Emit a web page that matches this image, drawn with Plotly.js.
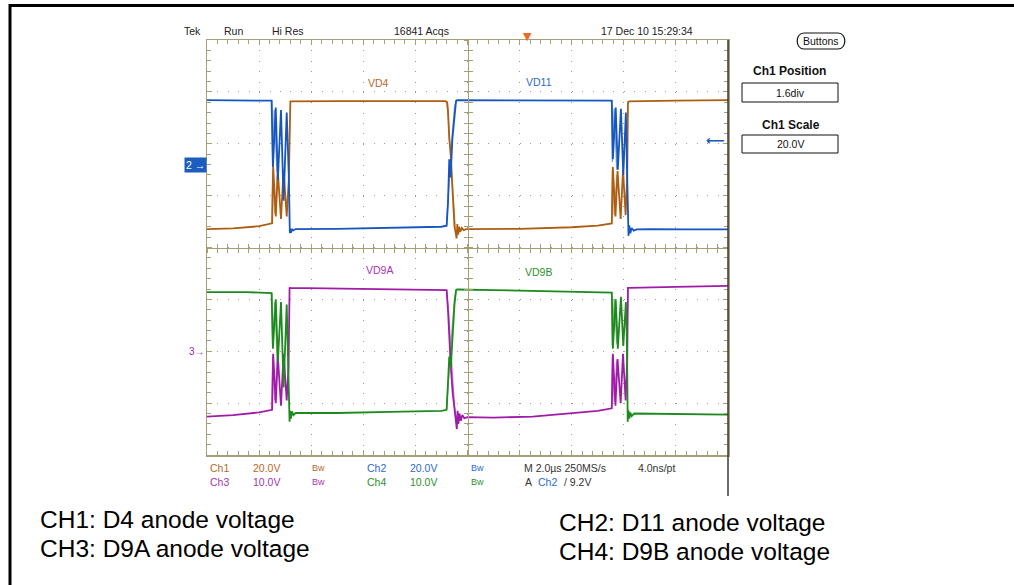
<!DOCTYPE html>
<html><head><meta charset="utf-8">
<script src="https://cdn.plot.ly/plotly-3.0.1.min.js"></script>
<style>html,body{margin:0;padding:0;background:#fff}#chart{width:1014px;height:585px}</style>
</head><body><div id="chart"></div>
<script>
// Time in µs from the left edge of the screen (M 2.0 µs/div), values in volts.
// CH1 / CH2: 20 V/div, CH3 / CH4: 10 V/div
const ch1Time = [0, 1.0, 2.0, 2.50, 2.54, 2.64, 2.72, 2.84, 2.94, 3.06, 3.14, 3.18, 3.20, 5.0, 7.0, 9.15, 9.22, 9.25, 9.30, 9.35, 9.40, 9.45, 9.50, 9.55, 9.58, 9.61, 9.64, 9.68, 9.72, 9.78, 9.85, 9.95, 10.5, 12.0, 14.0, 15.0, 15.54, 15.58, 15.68, 15.76, 15.88, 15.97, 16.07, 16.13, 16.16, 16.20, 18.0, 20.0];
const ch1Volt = [-24.9, -24.6, -23.8, -22.7, -1.0, -20.0, -3.0, -21.0, -2.0, -20.0, -6.0, 24.0, 24.3, 24.4, 24.5, 24.4, 24.0, 21.0, 10.0, 5.0, -5.0, -18.0, -24.0, -26.5, -28.5, -23.0, -27.0, -24.0, -26.0, -24.5, -25.3, -24.9, -24.9, -24.8, -24.2, -23.6, -22.7, -1.0, -20.0, -2.5, -21.0, -2.0, -19.5, -5.0, 24.0, 24.3, 24.6, 24.8];

const ch2Time = [0, 2.0, 2.48, 2.53, 2.64, 2.72, 2.84, 2.94, 3.06, 3.14, 3.18, 3.20, 3.22, 3.25, 3.30, 3.40, 5.0, 7.0, 9.0, 9.20, 9.25, 9.30, 9.35, 9.42, 9.50, 9.56, 9.60, 11.0, 13.0, 15.0, 15.54, 15.58, 15.69, 15.77, 15.89, 15.98, 16.08, 16.12, 16.15, 16.18, 16.21, 16.25, 16.30, 16.38, 16.50, 17.0, 18.5, 20.0];
const ch2Volt = [24.8, 24.6, 24.6, -1.0, 22.0, -6.0, 21.0, -14.0, 20.0, -4.0, -26.5, -25.0, -26.3, -24.8, -25.5, -24.9, -24.8, -24.5, -24.0, -23.6, -15.0, 2.0, -5.0, 10.0, 20.0, 24.5, 24.8, 24.8, 24.8, 24.7, 24.6, 2.0, 22.0, -2.0, 21.5, -4.0, 20.0, 0.0, -25.5, -27.5, -23.5, -26.5, -24.5, -25.5, -25.0, -24.9, -25.0, -25.0];

const ch3Time = [0, 1.0, 2.0, 2.50, 2.54, 2.64, 2.72, 2.84, 2.94, 3.06, 3.13, 3.17, 3.20, 5.0, 7.0, 9.0, 9.20, 9.25, 9.30, 9.36, 9.43, 9.50, 9.56, 9.59, 9.62, 9.65, 9.69, 9.74, 9.80, 9.88, 10.0, 11.0, 12.5, 14.0, 15.0, 15.54, 15.58, 15.68, 15.76, 15.88, 15.97, 16.07, 16.13, 16.16, 16.20, 18.0, 20.0];
const ch3Volt = [-12.6, -12.3, -11.8, -11.3, -0.5, -10.0, -1.0, -10.5, -0.5, -9.5, -3.0, 12.3, 12.2, 12.1, 12.0, 11.9, 11.8, 8.0, 2.0, -3.0, -8.0, -11.0, -13.5, -15.0, -11.5, -14.0, -12.0, -13.4, -12.3, -12.9, -12.7, -12.8, -12.6, -12.0, -11.5, -11.0, -0.5, -10.5, -1.5, -10.0, -0.5, -9.5, -2.0, 12.2, 12.2, 12.4, 12.6];

const ch4Time = [0, 1.5, 2.48, 2.53, 2.64, 2.72, 2.84, 2.94, 3.06, 3.13, 3.17, 3.19, 3.22, 3.26, 3.32, 3.40, 5.0, 7.0, 9.0, 9.20, 9.25, 9.30, 9.36, 9.43, 9.50, 9.56, 9.60, 11.0, 13.0, 15.0, 15.54, 15.58, 15.69, 15.77, 15.89, 15.98, 16.08, 16.12, 16.15, 16.18, 16.21, 16.25, 16.30, 16.40, 18.0, 20.0];
const ch4Volt = [11.4, 11.4, 11.2, 0.5, 10.0, -2.0, 9.5, -7.0, 9.0, -9.5, -13.6, -11.5, -13.0, -11.6, -12.3, -11.9, -11.9, -11.7, -11.5, -11.3, -6.0, -1.0, -3.0, 4.0, 9.0, 11.8, 11.9, 11.8, 11.6, 11.4, 11.3, 0.5, 10.0, 0.5, 10.5, 1.0, 9.5, 2.0, -13.6, -11.4, -13.0, -11.8, -12.5, -12.0, -12.1, -12.2];

// lighter persistence traces at the switching edges
const ch1GhostTime = [2.49, 2.52, 2.60, 2.70, null, 9.20, 9.26, 9.33, 9.40, 9.47, 9.53, null, 15.53, 15.56, 15.63, 15.73];
const ch1GhostVolt = [-22.8, -2.0, -19.0, -4.0, null, 24.2, 18.0, 6.0, -6.0, -18.0, -24.5, null, -22.7, -2.0, -19.5, -4.0];
const ch2GhostTime = [2.49, 2.52, 2.58, 2.69, null, 9.19, 9.27, 9.34, 9.42, 9.50, 9.57, null, 15.53, 15.56, 15.63, 15.73];
const ch2GhostVolt = [24.6, 2.0, 21.0, -3.0, null, -23.7, -10.0, 0.0, 12.0, 22.0, 24.6, null, 24.6, 1.0, 21.5, -2.0];
const ch3GhostTime = [2.49, 2.52, 2.60, 2.70, null, 9.19, 9.27, 9.34, 9.42, 9.50, 9.57, null, 15.53, 15.56, 15.63, 15.73];
const ch3GhostVolt = [-11.4, -1.0, -9.5, -1.5, null, 11.8, 8.0, 2.0, -5.0, -10.5, -12.8, null, -11.0, -1.0, -9.8, -1.8];
const ch4GhostTime = [2.49, 2.52, 2.60, 2.70, null, 9.19, 9.27, 9.34, 9.42, 9.50, 9.57, null, 15.53, 15.56, 15.63, 15.73];
const ch4GhostVolt = [11.2, 1.0, 9.5, -2.0, null, -11.3, -5.0, 0.0, 5.0, 10.0, 11.8, null, 11.3, 1.0, 10.0, 1.5];

// texts
const traceLabels = ['VD4', 'VD11', 'VD9A', 'VD9B'];
const headerTexts = ['Tek', 'Run', 'Hi Res', '16841 Acqs', '17 Dec 10 15:29:34'];
const readoutRow1 = ['Ch1', '20.0V', 'Bw', 'Ch2', '20.0V', 'Bw', 'M 2.0µs 250MS/s', '4.0ns/pt'];
const readoutRow2 = ['Ch3', '10.0V', 'Bw', 'Ch4', '10.0V', 'Bw', 'A', 'Ch2', '/ 9.2V'];
const captions = ['CH1: D4 anode voltage', 'CH3: D9A anode voltage', 'CH2: D11 anode voltage', 'CH4: D9B anode voltage'];
const triggerLevel = 9.2;      // V on Ch2
const triggerTime = 12.32;     // µs, marker at top of the screen

// ---------- styling ----------
const C1 = '#ad5e12', C2 = '#1656be', C3 = '#a01ca8', C4 = '#1c8a1c';
const G1 = '#d9a877', G2 = '#7ea6de', G3 = '#d47edb', G4 = '#7cc27c';
const T1 = '#b8682a', T2 = '#2c6ad0', T3 = '#a834b0', T4 = '#2a922a';
const gridCol = '#a69e76';
const dotCol = '#9d9a86';
const L = 207, R = 728, T = 40, B = 455;
const px = x => (x - L) / (R - L);
const py = y => (B - y) / (B - T);

const traces = [
  {x: ch1GhostTime, y: ch1GhostVolt, xaxis: 'x', yaxis: 'y', mode: 'lines', line: {color: G1, width: 1.3}, connectgaps: false, hoverinfo: 'skip'},
  {x: ch2GhostTime, y: ch2GhostVolt, xaxis: 'x', yaxis: 'y', mode: 'lines', line: {color: G2, width: 1.3}, connectgaps: false, hoverinfo: 'skip'},
  {x: ch3GhostTime, y: ch3GhostVolt, xaxis: 'x', yaxis: 'y2', mode: 'lines', line: {color: G3, width: 1.3}, connectgaps: false, hoverinfo: 'skip'},
  {x: ch4GhostTime, y: ch4GhostVolt, xaxis: 'x', yaxis: 'y2', mode: 'lines', line: {color: G4, width: 1.3}, connectgaps: false, hoverinfo: 'skip'},
  {x: ch1Time, y: ch1Volt, xaxis: 'x2', yaxis: 'y', mode: 'lines', line: {color: C1, width: 1.8}, name: 'Ch1'},
  {x: ch2Time, y: ch2Volt, xaxis: 'x3', yaxis: 'y', mode: 'lines', line: {color: C2, width: 1.8}, name: 'Ch2'},
  {x: ch3Time, y: ch3Volt, xaxis: 'x', yaxis: 'y3', mode: 'lines', line: {color: C3, width: 1.8}, name: 'Ch3'},
  {x: ch4Time, y: ch4Volt, xaxis: 'x', yaxis: 'y3', mode: 'lines', line: {color: C4, width: 1.8}, name: 'Ch4'}
];

const borderAxis = {
  showgrid: true, gridcolor: dotCol, gridwidth: 1,
  showline: true, linecolor: gridCol, linewidth: 1.5, mirror: 'ticks',
  ticks: 'inside', ticklen: 5, tickwidth: 1, tickcolor: gridCol,
  showticklabels: false, zeroline: false, fixedrange: true
};
const centerAxis = (ticks) => ({
  anchor: 'free', position: 0.5, showgrid: false, zeroline: false,
  showline: true, linecolor: gridCol, linewidth: 1.5,
  ticks: ticks, ticklen: 4, tickwidth: 1, tickcolor: gridCol,
  showticklabels: false, fixedrange: true
});

const ann = [];
const add = (o) => ann.push(Object.assign({showarrow: false, xref: 'paper', yref: 'paper'}, o));

// header
const headerX = [192, 233, 288, 421, 647];
headerTexts.forEach((t, i) => add({text: t, x: px(headerX[i]), y: py(31.5), xanchor: 'center', yanchor: 'middle', font: {size: 10.5, color: '#222'}}));

// trace labels
add({text: traceLabels[0], x: 6.60, xref: 'x', y: 31.4, yref: 'y', font: {size: 10.5, color: T1}});
add({text: traceLabels[1], x: 12.74, xref: 'x', y: 31.8, yref: 'y', font: {size: 10.5, color: T2}});
add({text: traceLabels[2], x: 6.62, xref: 'x', y: 15.66, yref: 'y2', font: {size: 10.5, color: T3}});
add({text: traceLabels[3], x: 12.74, xref: 'x', y: 15.28, yref: 'y2', font: {size: 10.5, color: T4}});

// channel markers
add({text: '2 →', x: 0, y: 0, yref: 'y', xanchor: 'right', yanchor: 'middle', bgcolor: '#1c5cbf', borderpad: 1, font: {size: 10.5, color: '#fff'}});
add({text: '3→', x: 0, y: 0, yref: 'y2', xanchor: 'right', yanchor: 'middle', font: {size: 10, color: C3}});
add({text: '⟵', x: 1, y: triggerLevel, yref: 'y', xanchor: 'right', yanchor: 'middle', xshift: -1, font: {family: 'DejaVu Sans', size: 13, color: C2, weight: 'bold'}});
add({text: '▼', x: triggerTime, xref: 'x', y: 1, yanchor: 'bottom', yshift: -5, font: {family: 'DejaVu Sans', size: 11, color: '#f06a1e'}});

// readouts
const row1X = [208, 251, 310, 365, 408, 469, 522, 636];
const row1C = [T1, T1, T1, T2, T2, T2, '#333', '#333'];
readoutRow1.forEach((t, i) => add({text: t, x: px(row1X[i]), y: py(468), xanchor: 'left', yanchor: 'middle', font: {size: i === 2 || i === 5 ? 9 : 10.5, color: row1C[i]}}));
const row2X = [208, 251, 310, 365, 408, 469, 523, 536, 562];
const row2C = [T3, T3, T3, T4, T4, T4, '#333', T2, '#333'];
readoutRow2.forEach((t, i) => add({text: t, x: px(row2X[i]), y: py(482), xanchor: 'left', yanchor: 'middle', font: {size: i === 2 || i === 5 ? 9 : 10.5, color: row2C[i]}}));

// side panel
add({text: 'Buttons', x: px(821), y: py(41), xanchor: 'center', yanchor: 'middle', font: {size: 10.5, color: '#111'}});
add({text: 'Ch1 Position', x: px(789), y: py(71), xanchor: 'center', yanchor: 'middle', font: {size: 12, color: '#111', weight: 'bold'}});
add({text: '1.6div', x: px(790), y: py(92.5), xanchor: 'center', yanchor: 'middle', font: {size: 10.5, color: '#111'}});
add({text: 'Ch1 Scale', x: px(791), y: py(125), xanchor: 'center', yanchor: 'middle', font: {size: 12, color: '#111', weight: 'bold'}});
add({text: '20.0V', x: px(790), y: py(144), xanchor: 'center', yanchor: 'middle', font: {size: 10.5, color: '#111'}});

// captions
const capX = [38, 38, 557, 557], capY = [519, 548, 522, 551];
captions.forEach((t, i) => add({text: t, x: px(capX[i]), y: py(capY[i]), xanchor: 'left', yanchor: 'middle', font: {size: 24.5, color: '#000'}}));

// shapes
const r = 7 / (R - L);
const bx0 = px(797), bx1 = px(845), by0 = py(49), by1 = py(33);
const shapes = [
  {type: 'line', xref: 'paper', yref: 'paper', x0: px(10), x1: px(1020), y0: py(5.5), y1: py(5.5), line: {color: '#000', width: 3}},
  {type: 'line', xref: 'paper', yref: 'paper', x0: px(10), x1: px(10), y0: py(4), y1: py(600), line: {color: '#000', width: 3}},
  {type: 'line', xref: 'paper', yref: 'paper', x0: 1, x1: 1, y0: py(40), y1: py(496), line: {color: '#3a3a3a', width: 1.5}},
  {type: 'rect', xref: 'paper', yref: 'paper', x0: px(742), x1: px(838), y0: py(102), y1: py(83), line: {color: '#111', width: 1}},
  {type: 'rect', xref: 'paper', yref: 'paper', x0: px(742), x1: px(838), y0: py(153), y1: py(135), line: {color: '#111', width: 1}},
  {type: 'path', xref: 'paper', yref: 'paper',
   path: `M${bx0 + r},${by1} L${bx1 - r},${by1} C${bx1 + r * 0.3},${by1} ${bx1 + r * 0.3},${by0} ${bx1 - r},${by0} L${bx0 + r},${by0} C${bx0 - r * 0.3},${by0} ${bx0 - r * 0.3},${by1} ${bx0 + r},${by1} Z`,
   line: {color: '#111', width: 1.2}}
];

const layout = {
  width: 1014, height: 585,
  margin: {l: L, r: 1014 - R, t: T, b: 585 - B, pad: 0},
  paper_bgcolor: '#fff', plot_bgcolor: '#fff',
  showlegend: false,
  font: {family: 'Liberation Sans, Arial, sans-serif', size: 11, color: '#222'},
  xaxis: Object.assign({}, borderAxis, {range: [0, 20], tick0: 0, dtick: 2, griddash: '1px,9.38px',
    minor: {tick0: 0, dtick: 0.4, ticks: 'inside', ticklen: 4, tickwidth: 1, tickcolor: gridCol, showgrid: false}}),
  yaxis: Object.assign({}, borderAxis, {range: [-112, 48], tick0: 8, dtick: 20, griddash: '1px,9.42px',
    minor: {tick0: 8, dtick: 4, ticks: 'inside', ticklen: 4, tickwidth: 1, tickcolor: gridCol, showgrid: false}}),
  xaxis2: Object.assign(centerAxis('outside'), {overlaying: 'x', range: [0, 20], tick0: 0, dtick: 0.4}),
  xaxis3: Object.assign(centerAxis('inside'), {overlaying: 'x', range: [0, 20], tick0: 0, dtick: 0.4}),
  yaxis2: Object.assign(centerAxis('outside'), {overlaying: 'y', range: [-20, 60], tick0: 0, dtick: 2}),
  yaxis3: Object.assign(centerAxis('inside'), {overlaying: 'y', range: [-20, 60], tick0: 0, dtick: 2}),
  annotations: ann,
  shapes: shapes
};

Plotly.newPlot('chart', traces, layout, {staticPlot: true, displayModeBar: false});
</script>
</body></html>
